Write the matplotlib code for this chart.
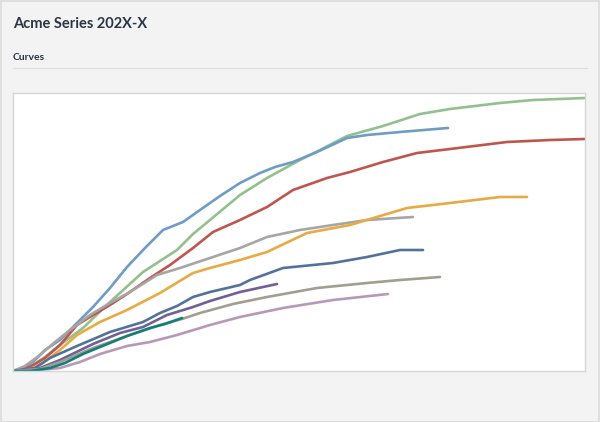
import matplotlib.pyplot as plt
from matplotlib.patches import Rectangle
from matplotlib.lines import Line2D

plt.rcParams["font.family"] = ["Lato", "DejaVu Sans"]

# 곡선 데이터 (x: 경과, y: 누적값)
blue_x = [0, 12, 22, 32, 47, 62, 80, 97, 114, 132, 150, 170, 187, 207, 227, 247, 262, 280, 304, 334, 354, 387, 435]
blue_y = [0, 3, 11, 21, 31, 46, 64, 83, 104, 123, 141, 149, 161, 175, 188, 198, 204, 209, 219, 233, 236, 239, 243]

green_x = [0, 17, 32, 47, 70, 97, 130, 164, 180, 197, 227, 254, 287, 307, 334, 370, 407, 437, 487, 520, 572]
green_y = [0, 4, 14, 26, 43, 69, 99, 121, 137, 151, 176, 193, 211, 221, 235, 245, 257, 262, 268, 271, 273]

red_x = [0, 17, 32, 47, 64, 80, 97, 114, 137, 157, 180, 200, 227, 254, 280, 314, 337, 370, 404, 437, 494, 537, 572]
red_y = [0, 4, 13, 26, 46, 56, 66, 77, 93, 106, 123, 139, 151, 164, 181, 193, 199, 209, 218, 222, 229, 231, 232]

gray_x = [0, 12, 27, 42, 57, 77, 97, 117, 144, 167, 197, 227, 254, 287, 320, 354, 400]
gray_y = [0, 5, 16, 29, 41, 56, 68, 79, 96, 103, 113, 123, 134, 141, 146, 151, 154]

orange_x = [0, 17, 30, 47, 64, 87, 114, 147, 180, 197, 227, 254, 294, 337, 394, 437, 487, 514]
orange_y = [0, 2, 8, 21, 36, 49, 61, 78, 98, 103, 111, 119, 138, 146, 163, 168, 174, 174]

slate_x = [0, 22, 37, 64, 97, 130, 147, 164, 180, 197, 227, 237, 270, 320, 354, 387, 410]
slate_y = [0, 3, 13, 25, 39, 49, 58, 65, 74, 79, 86, 91, 103, 108, 114, 121, 121]

purple_x = [0, 27, 47, 80, 107, 130, 154, 180, 197, 227, 264]
purple_y = [0, 3, 11, 27, 38, 44, 56, 64, 70, 79, 87]

taupe_x = [0, 27, 47, 80, 117, 147, 169, 187, 220, 254, 304, 354, 387, 427]
taupe_y = [0, 2, 9, 23, 36, 46, 52, 58, 67, 74, 83, 88, 91, 94]

mauve_x = [0, 27, 47, 67, 87, 114, 137, 164, 197, 227, 270, 320, 375]
mauve_y = [0, 1, 3, 9, 17, 25, 29, 36, 46, 54, 63, 71, 77]

teal_x = [0, 17, 37, 52, 70, 87, 114, 137, 152, 169]
teal_y = [0, 0, 3, 8, 17, 24, 35, 43, 47, 53]

series = [
    (green_x, green_y, "#93c08e"),
    (blue_x, blue_y, "#6f9cc4"),
    (red_x, red_y, "#c0554e"),
    (gray_x, gray_y, "#a6a6a6"),
    (orange_x, orange_y, "#e8aa42"),
    (slate_x, slate_y, "#53729b"),
    (purple_x, purple_y, "#6f6096"),
    (taupe_x, taupe_y, "#a29e92"),
    (mauve_x, mauve_y, "#b898b8"),
    (teal_x, teal_y, "#127f78"),
]

fig = plt.figure(figsize=(6, 4.22), dpi=100, facecolor="#f3f3f3")

# 바깥 테두리
fig.patches.append(Rectangle((0.001, 0.001), 0.997, 0.997, transform=fig.transFigure,
                             fill=False, edgecolor="#dcdcdc", linewidth=1.2))

fig.text(13 / 600, 1 - 28 / 422, "Acme Series 202X-X", fontsize=10.5, fontweight="bold",
         color="#2b3546", va="baseline", ha="left")
fig.text(13 / 600, 1 - 60 / 422, "Curves", fontsize=7.5, fontweight="bold",
         color="#2b3546", va="baseline", ha="left")
fig.add_artist(Line2D([13 / 600, 587 / 600], [1 - 68 / 422, 1 - 68 / 422],
                      transform=fig.transFigure, color="#dcdcdc", linewidth=0.8))

ax = fig.add_axes([13 / 600, (422 - 371) / 422, 572 / 600, 278 / 422])
ax.set_facecolor("white")
for s in ax.spines.values():
    s.set_color("#d6d6d6")
    s.set_linewidth(1)

for xs, ys, c in series:
    ax.plot(xs, ys, color=c, linewidth=1.9, solid_capstyle="round", solid_joinstyle="round")

ax.set_xlim(0, 572)
ax.set_ylim(0, 278)
ax.set_xticks([])
ax.set_yticks([])

fig.savefig("out.png", dpi=100, facecolor=fig.get_facecolor())
